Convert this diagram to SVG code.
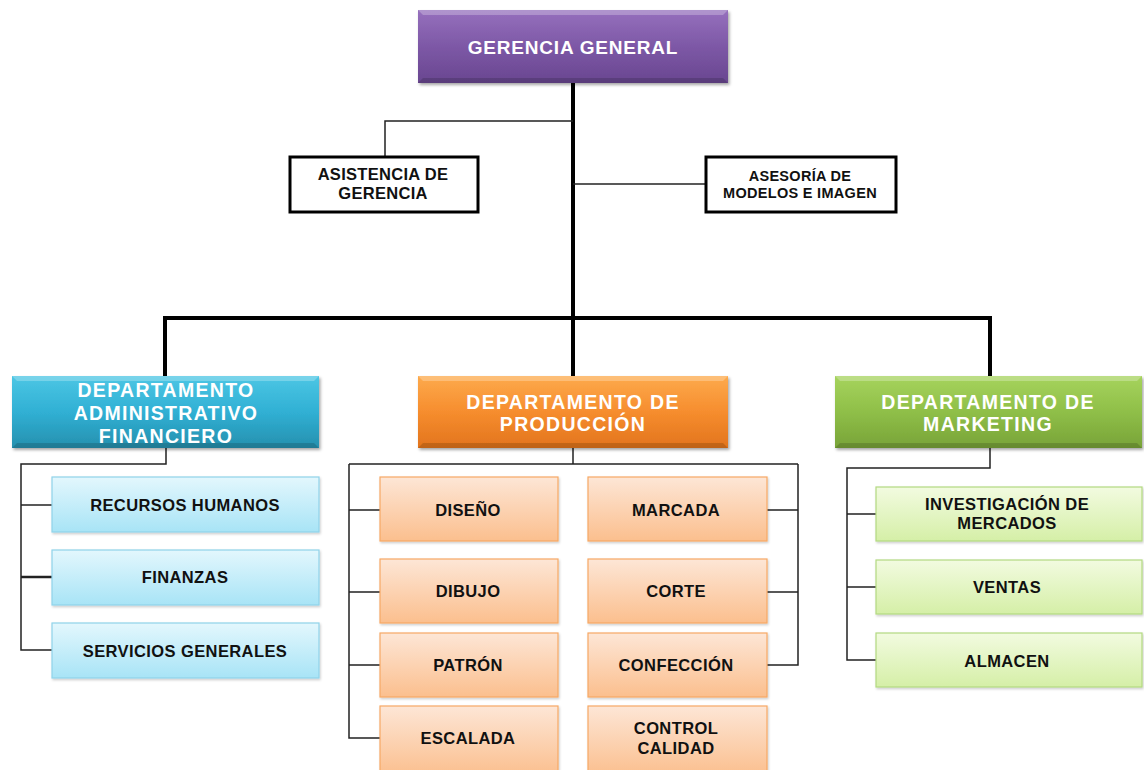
<svg xmlns="http://www.w3.org/2000/svg" width="1144" height="770" viewBox="0 0 1144 770">
  <style>
    .hdr { font-family: "Liberation Sans", Arial, sans-serif; font-weight: bold; font-size: 19.5px; letter-spacing: 1.3px; fill: #ffffff; text-anchor: middle; }
    .hdr.top { font-size: 19px; letter-spacing: 0.8px; }
    .lbl { font-family: "Liberation Sans", Arial, sans-serif; font-weight: bold; font-size: 16.5px; letter-spacing: 0.4px; fill: #111111; text-anchor: middle; }
    .aux { font-family: "Liberation Sans", Arial, sans-serif; font-weight: bold; font-size: 16.5px; letter-spacing: 0.3px; fill: #111111; text-anchor: middle; }
    .aux.small { font-size: 14.5px; }
    .thick { stroke: #000000; stroke-width: 4; fill: none; }
    .thin { stroke: #222222; stroke-width: 1.5; fill: none; }
    .auxbox { fill: #ffffff; stroke: #000000; stroke-width: 3; }
    .blue { fill: url(#gBlueL); stroke: #8fd3ea; stroke-width: 1.2; }
    .peach { fill: url(#gPeach); stroke: #f7a865; stroke-width: 1.2; }
    .lime { fill: url(#gLime); stroke: #b3d981; stroke-width: 1.2; }
    .bevelHi { fill: #ffffff; opacity: 0.25; }
    .bevelLo { fill: #000000; opacity: 0.15; }
  </style>
  <defs>
    <linearGradient id="gPurple" x1="0" y1="0" x2="0" y2="1">
      <stop offset="0" stop-color="#9670bd"/>
      <stop offset="0.5" stop-color="#7d58a6"/>
      <stop offset="1" stop-color="#694690"/>
    </linearGradient>
    <linearGradient id="gTeal" x1="0" y1="0" x2="0" y2="1">
      <stop offset="0" stop-color="#4cc6e4"/>
      <stop offset="0.5" stop-color="#30b0d4"/>
      <stop offset="1" stop-color="#2690ae"/>
    </linearGradient>
    <linearGradient id="gOrange" x1="0" y1="0" x2="0" y2="1">
      <stop offset="0" stop-color="#fdaa4c"/>
      <stop offset="0.5" stop-color="#f68d2e"/>
      <stop offset="1" stop-color="#e2741d"/>
    </linearGradient>
    <linearGradient id="gGreen" x1="0" y1="0" x2="0" y2="1">
      <stop offset="0" stop-color="#a6d35d"/>
      <stop offset="0.5" stop-color="#8fbf48"/>
      <stop offset="1" stop-color="#78a338"/>
    </linearGradient>
    <linearGradient id="gBlueL" x1="0" y1="0" x2="0" y2="1">
      <stop offset="0" stop-color="#e3f7fd"/>
      <stop offset="1" stop-color="#a8e4f6"/>
    </linearGradient>
    <linearGradient id="gPeach" x1="0" y1="0" x2="0" y2="1">
      <stop offset="0" stop-color="#fde6d6"/>
      <stop offset="1" stop-color="#fbbf8e"/>
    </linearGradient>
    <linearGradient id="gLime" x1="0" y1="0" x2="0" y2="1">
      <stop offset="0" stop-color="#f2fbe0"/>
      <stop offset="1" stop-color="#d5efa7"/>
    </linearGradient>
    <filter id="shadow" x="-5%" y="-10%" width="115%" height="130%">
      <feDropShadow dx="1.5" dy="2" stdDeviation="1.5" flood-color="#000000" flood-opacity="0.35"/>
    </filter>
    <filter id="softShadow" x="-5%" y="-10%" width="115%" height="130%">
      <feDropShadow dx="1" dy="1.5" stdDeviation="1" flood-color="#000000" flood-opacity="0.2"/>
    </filter>
  </defs>

  <!-- connectors -->
  <g id="connectors">
    <!-- trunk and top-level bus -->
    <path class="thick" d="M573 83 V318"/>
    <path class="thick" d="M165 318 H990"/>
    <path class="thick" d="M165 316 V376 M990 316 V376 M573 318 V376"/>
    <!-- staff units -->
    <path class="thin" d="M573 121 H385 V157"/>
    <path class="thin" d="M573 184 H706"/>
    <!-- administrative -->
    <path class="thin" d="M166 448 V464 H21 V650 H52"/>
    <path class="thin" d="M21 505 H52"/>
    <path class="thin" d="M21 577 H52" style="stroke-width: 2.5px"/>
    <!-- production -->
    <path class="thin" d="M573 448 V464"/>
    <path class="thin" d="M349 464 H798"/>
    <path class="thin" d="M349 464 V738 H380"/>
    <path class="thin" d="M349 510 H380 M349 592 H380 M349 665 H380"/>
    <path class="thin" d="M798 464 V665 H767"/>
    <path class="thin" d="M767 510 H798 M767 592 H798"/>
    <!-- marketing -->
    <path class="thin" d="M990 448 V468 H847 V660 H876"/>
    <path class="thin" d="M847 514 H876 M847 587 H876"/>
  </g>

  <g id="gerencia-general">
    <rect x="418" y="10" width="310" height="73" fill="url(#gPurple)" filter="url(#shadow)"/>
    <polygon class="bevelHi" points="418,10 728,10 723,15 423,15"/>
    <polygon class="bevelLo" points="418,83 728,83 723,78 423,78"/>
    <text class="hdr top" x="573" y="54">GERENCIA GENERAL</text>
  </g>

  <g id="asistencia-gerencia">
    <rect class="auxbox" x="290" y="157" width="188" height="55"/>
    <text class="aux" x="383" y="180">ASISTENCIA DE</text>
    <text class="aux" x="383" y="199">GERENCIA</text>
  </g>

  <g id="asesoria-modelos">
    <rect class="auxbox" x="706" y="157" width="190" height="55"/>
    <text class="aux small" x="800" y="181">ASESORÍA DE</text>
    <text class="aux small" x="800" y="198">MODELOS E IMAGEN</text>
  </g>

  <g id="dep-administrativo">
    <rect x="12" y="376" width="307" height="72" fill="url(#gTeal)" filter="url(#shadow)"/>
    <polygon class="bevelHi" points="12,376 319,376 314,381 17,381"/>
    <polygon class="bevelLo" points="12,448 319,448 314,443 17,443"/>
    <text class="hdr" x="166" y="397">DEPARTAMENTO</text>
    <text class="hdr" x="166" y="420">ADMINISTRATIVO</text>
    <text class="hdr" x="166" y="443">FINANCIERO</text>
  </g>

  <g id="dep-produccion">
    <rect x="418" y="376" width="310" height="72" fill="url(#gOrange)" filter="url(#shadow)"/>
    <polygon class="bevelHi" points="418,376 728,376 723,381 423,381"/>
    <polygon class="bevelLo" points="418,448 728,448 723,443 423,443"/>
    <text class="hdr" x="573" y="409">DEPARTAMENTO DE</text>
    <text class="hdr" x="573" y="431">PRODUCCIÓN</text>
  </g>

  <g id="dep-marketing">
    <rect x="835" y="376" width="307" height="72" fill="url(#gGreen)" filter="url(#shadow)"/>
    <polygon class="bevelHi" points="835,376 1142,376 1137,381 840,381"/>
    <polygon class="bevelLo" points="835,448 1142,448 1137,443 840,443"/>
    <text class="hdr" x="988" y="409">DEPARTAMENTO DE</text>
    <text class="hdr" x="988" y="431">MARKETING</text>
  </g>

  <!-- administrative units -->
  <g id="recursos-humanos">
    <rect class="blue" x="52" y="477" width="267" height="55" filter="url(#softShadow)"/>
    <text class="lbl" x="185" y="511">RECURSOS  HUMANOS</text>
  </g>
  <g id="finanzas">
    <rect class="blue" x="52" y="550" width="267" height="55" filter="url(#softShadow)"/>
    <text class="lbl" x="185" y="583">FINANZAS</text>
  </g>
  <g id="servicios-generales">
    <rect class="blue" x="52" y="623" width="267" height="55" filter="url(#softShadow)"/>
    <text class="lbl" x="185" y="657">SERVICIOS GENERALES</text>
  </g>

  <!-- production units -->
  <g id="diseno">
    <rect class="peach" x="380" y="477" width="178" height="64" filter="url(#softShadow)"/>
    <text class="lbl" x="468" y="516">DISEÑO</text>
  </g>
  <g id="dibujo">
    <rect class="peach" x="380" y="559" width="178" height="64" filter="url(#softShadow)"/>
    <text class="lbl" x="468" y="597">DIBUJO</text>
  </g>
  <g id="patron">
    <rect class="peach" x="380" y="633" width="178" height="64" filter="url(#softShadow)"/>
    <text class="lbl" x="468" y="671">PATRÓN</text>
  </g>
  <g id="escalada">
    <rect class="peach" x="380" y="706" width="178" height="70" filter="url(#softShadow)"/>
    <text class="lbl" x="468" y="744">ESCALADA</text>
  </g>
  <g id="marcada">
    <rect class="peach" x="588" y="477" width="179" height="64" filter="url(#softShadow)"/>
    <text class="lbl" x="676" y="516">MARCADA</text>
  </g>
  <g id="corte">
    <rect class="peach" x="588" y="559" width="179" height="64" filter="url(#softShadow)"/>
    <text class="lbl" x="676" y="597">CORTE</text>
  </g>
  <g id="confeccion">
    <rect class="peach" x="588" y="633" width="179" height="64" filter="url(#softShadow)"/>
    <text class="lbl" x="676" y="671">CONFECCIÓN</text>
  </g>
  <g id="control-calidad">
    <rect class="peach" x="588" y="706" width="179" height="70" filter="url(#softShadow)"/>
    <text class="lbl" x="676" y="734">CONTROL</text>
    <text class="lbl" x="676" y="754">CALIDAD</text>
  </g>

  <!-- marketing units -->
  <g id="investigacion-mercados">
    <rect class="lime" x="876" y="487" width="266" height="54" filter="url(#softShadow)"/>
    <text class="lbl" x="1007" y="510">INVESTIGACIÓN DE</text>
    <text class="lbl" x="1007" y="529">MERCADOS</text>
  </g>
  <g id="ventas">
    <rect class="lime" x="876" y="560" width="266" height="54" filter="url(#softShadow)"/>
    <text class="lbl" x="1007" y="593">VENTAS</text>
  </g>
  <g id="almacen">
    <rect class="lime" x="876" y="633" width="266" height="54" filter="url(#softShadow)"/>
    <text class="lbl" x="1007" y="667">ALMACEN</text>
  </g>
</svg>
